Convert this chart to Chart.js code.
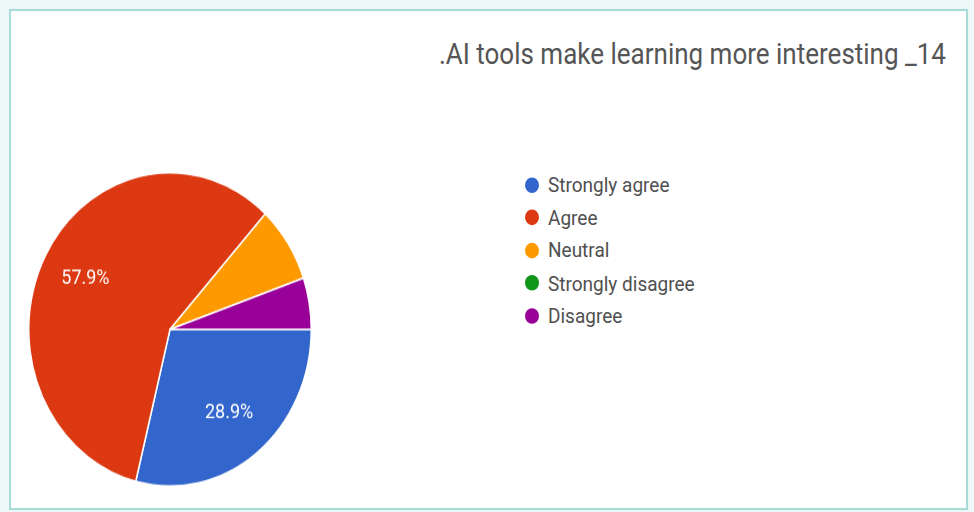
<!DOCTYPE html>
<html>
<head>
<meta charset="utf-8">
<script src="https://cdn.jsdelivr.net/npm/chart.js@4.4.1/dist/chart.umd.min.js"></script>
<style>
  html, body { margin: 0; padding: 0; }
  body {
    width: 974px; height: 512px; overflow: hidden;
    background: #eef8f8;
    font-family: Roboto, Arial, sans-serif;
  }
  /* the whole card is drawn a bit taller than wide */
  #page {
    position: relative; width: 974px; height: 462px;
    transform: scaleY(1.109); transform-origin: 0 0;
  }
  #card {
    position: absolute; left: 9px; top: 8px;
    width: 955px; height: 448px;
    border: 2px solid #a9dcd8; background: #fff;
  }
  #title {
    position: absolute; right: 28px; top: 34px;
    font-size: 26px; line-height: 30px; color: #555;
    white-space: nowrap;
  }
  #pieBox { position: absolute; left: 28px; top: 155px; width: 284px; height: 284px; }
  #legend {
    position: absolute; left: 525px; top: 152px;
    margin: 0; padding: 0; list-style: none;
  }
  #legend li {
    display: flex; align-items: center; height: 29.5px;
    font-size: 19px; color: #505050; white-space: nowrap;
  }
  #legend .dot {
    width: 14px; height: 14px; border-radius: 50%;
    margin-right: 9px; flex: none;
  }
</style>
</head>
<body>
<div id="page">
  <div id="card"></div>
  <div id="title">.AI tools make learning more interesting _14</div>
  <div id="pieBox"><canvas id="pie" width="284" height="284"></canvas></div>
  <ul id="legend"></ul>
</div>
<script>
const answers = ['Strongly agree', 'Agree', 'Neutral', 'Strongly disagree', 'Disagree'];
const shares = [28.9, 57.9, 7.9, 0, 5.3];
const colors = ['#3366cc', '#dc3912', '#ff9900', '#109618', '#990099'];

// percent text inside the larger slices
const sliceLabels = {
  id: 'sliceLabels',
  afterDatasetsDraw(chart) {
    const { ctx } = chart;
    const values = chart.data.datasets[0].data;
    const total = values.reduce((a, b) => a + b, 0);
    ctx.save();
    ctx.font = '18px Roboto, Arial, sans-serif';
    ctx.fillStyle = '#fff';
    ctx.textAlign = 'center';
    ctx.textBaseline = 'middle';
    chart.getDatasetMeta(0).data.forEach((arc, i) => {
      const share = values[i] / total;
      if (share < 0.1) return;
      const { x, y, startAngle, endAngle, outerRadius } =
        arc.getProps(['x', 'y', 'startAngle', 'endAngle', 'outerRadius'], true);
      const mid = (startAngle + endAngle) / 2;
      const r = outerRadius * 0.68;
      ctx.fillText(values[i].toFixed(1) + '%', x + Math.cos(mid) * r, y + Math.sin(mid) * r);
    });
    ctx.restore();
  }
};

new Chart(document.getElementById('pie'), {
  type: 'pie',
  data: {
    labels: answers,
    datasets: [{
      data: shares,
      backgroundColor: colors,
      borderColor: '#fff',
      borderWidth: 1.5
    }]
  },
  options: {
    responsive: false,
    animation: false,
    rotation: 90,
    layout: { padding: 0 },
    plugins: {
      legend: { display: false },
      tooltip: { enabled: false }
    }
  },
  plugins: [sliceLabels]
});

const legend = document.getElementById('legend');
answers.forEach((name, i) => {
  const li = document.createElement('li');
  const dot = document.createElement('span');
  dot.className = 'dot';
  dot.style.background = colors[i];
  li.appendChild(dot);
  li.appendChild(document.createTextNode(name));
  legend.appendChild(li);
});
</script>
</body>
</html>
